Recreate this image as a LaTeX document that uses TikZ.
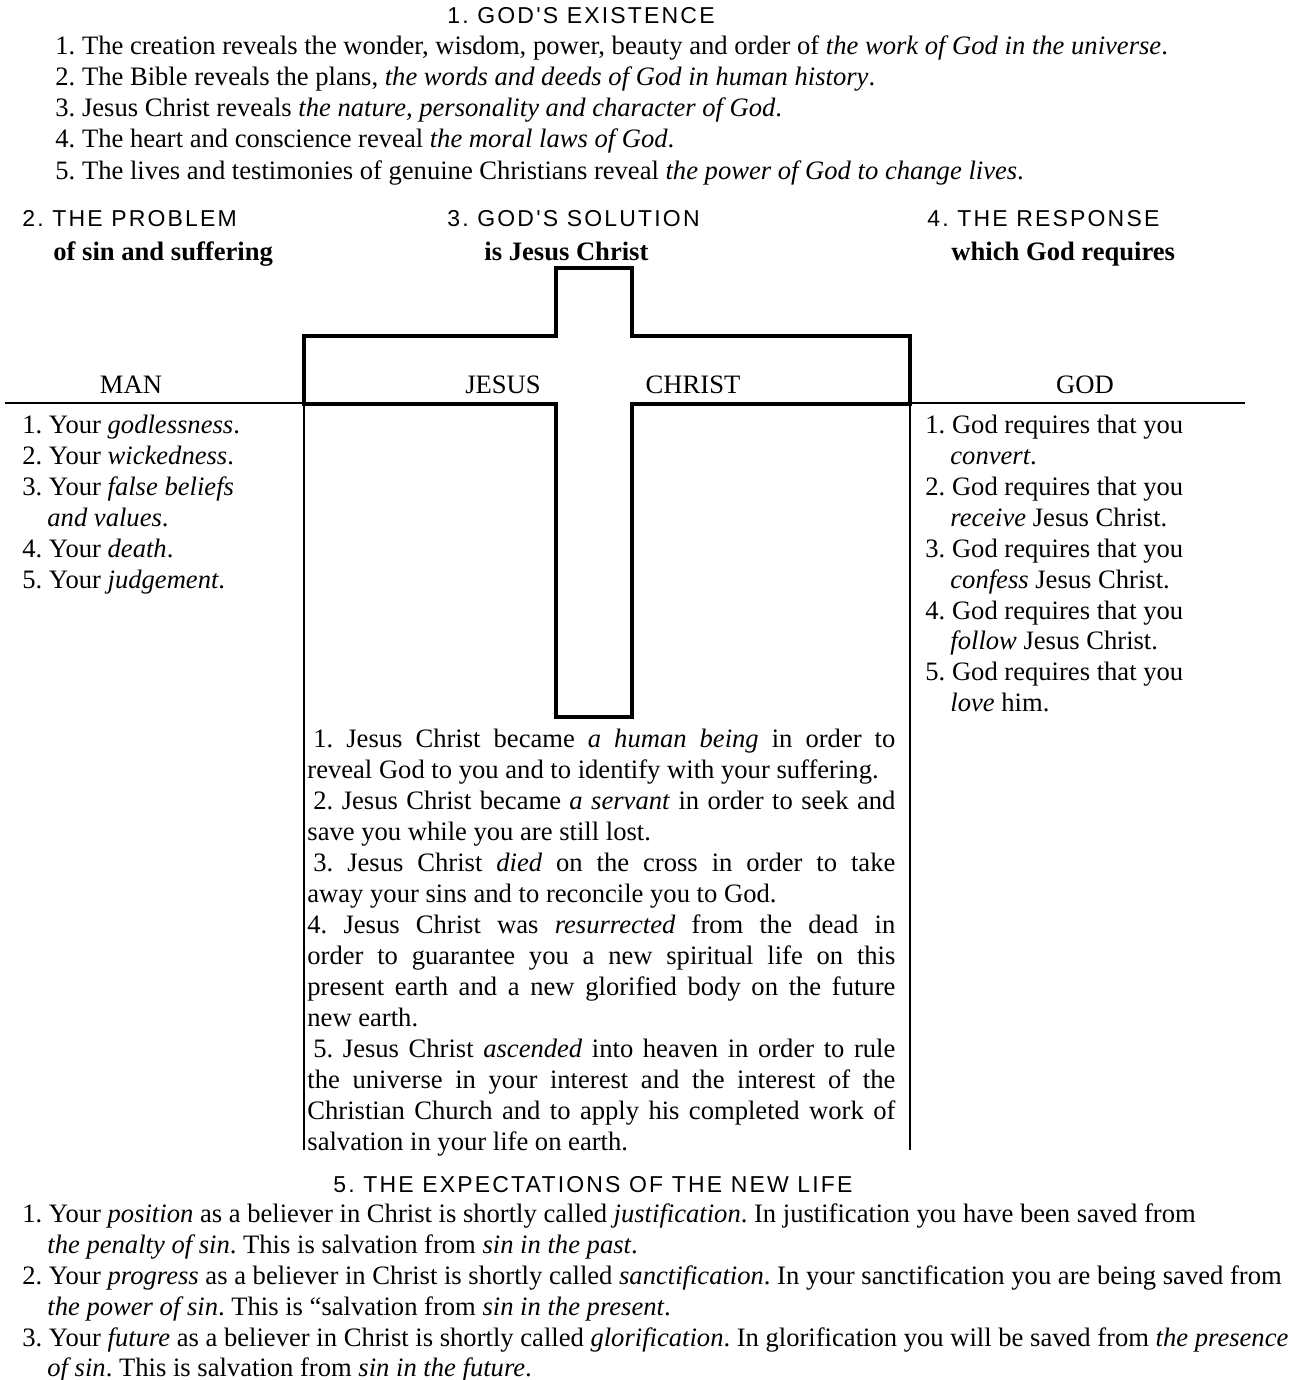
\documentclass[tikz,border=0pt]{standalone}
\usepackage{fontspec}
\setmainfont{Liberation Serif}
\newfontfamily\hfont[LetterSpace=9.5]{Liberation Sans}
\frenchspacing
\tikzset{
  x=0.5pt, y=-0.5pt,
  txt/.style={anchor=base west, inner sep=0pt, font=\fontsize{13.3}{15.5}\selectfont\frenchspacing},
  btxt/.style={txt, font=\fontsize{13.3}{15.5}\selectfont\bfseries},
  head/.style={anchor=base west, inner sep=0pt, font=\fontsize{11.5}{13}\hfont},
  lab/.style={anchor=base, inner sep=0pt, font=\fontsize{13.3}{15.5}\selectfont},
  crossline/.style={line width=2pt, line join=miter},
  thin/.style={line width=0.7pt}
}
\begin{document}
\begin{tikzpicture}
\useasboundingbox (0,0) rectangle (1307,1380);
% heading 1
\node[head] (h1) at (447,24) {1. GOD'S EXISTENCE};
\node[txt] (e1) at (55,55) {1. The creation reveals the wonder, wisdom, power, beauty and order of \textit{the work of God in the universe}.};
\node[txt] (e2) at (55,86) {2. The Bible reveals the plans, \textit{the words and deeds of God in human history}.};
\node[txt] (e3) at (55,117) {3. Jesus Christ reveals \textit{the nature, personality and character of God}.};
\node[txt] (e4) at (55,148) {4. The heart and conscience reveal \textit{the moral laws of God}.};
\node[txt] (e5) at (55,180) {5. The lives and testimonies of genuine Christians reveal \textit{the power of God to change lives}.};
% section headings
\node[head] (h2) at (22,227) {2. THE PROBLEM};
\node[btxt] (h2b) at (53,260) {of sin and suffering};
\node[head] (h3) at (447,227) {3. GOD'S SOLUTION};
\node[btxt] (h3b) at (484,260) {is Jesus Christ};
\node[head] (h4) at (927,227) {4. THE RESPONSE};
\node[btxt] (h4b) at (951,260) {which God requires};
% cross and lines
\draw[thin] (5,403) -- (304,403);
\draw[thin] (910,403) -- (1245,403);
\draw[thin] (304,404) -- (304,1150);
\draw[thin] (910,404) -- (910,1150);
\draw[crossline] (556,268) -- (632,268) -- (632,336) -- (910,336) -- (910,404) -- (632,404) -- (632,717) -- (556,717) -- (556,404) -- (304,404) -- (304,336) -- (556,336) -- cycle;
% labels
\node[lab] (man) at (131,393) {MAN};
\node[lab] (jesus) at (503,393) {JESUS};
\node[lab] (christ) at (693,393) {CHRIST};
\node[lab] (god) at (1085,393) {GOD};
% left list
\node[txt] (m1) at (22,433) {1. Your \textit{godlessness}.};
\node[txt] (m2) at (22,464) {2. Your \textit{wickedness}.};
\node[txt] (m3) at (22,495) {3. Your \textit{false beliefs}};
\node[txt] (m3b) at (47,526) {\textit{and values}.};
\node[txt] (m4) at (22,557) {4. Your \textit{death}.};
\node[txt] (m5) at (22,588) {5. Your \textit{judgement}.};
% right list
\node[txt] (g1) at (925,433) {1. God requires that you};
\node[txt] (g1b) at (950,464) {\textit{convert}.};
\node[txt] (g2) at (925,495) {2. God requires that you};
\node[txt] (g2b) at (950,526) {\textit{receive} Jesus Christ.};
\node[txt] (g3) at (925,557) {3. God requires that you};
\node[txt] (g3b) at (950,588) {\textit{confess} Jesus Christ.};
\node[txt] (g4) at (925,619) {4. God requires that you};
\node[txt] (g4b) at (950,649) {\textit{follow} Jesus Christ.};
\node[txt] (g5) at (925,680) {5. God requires that you};
\node[txt] (g5b) at (950,711) {\textit{love} him.};
% middle paragraph
\node[anchor=north west, inner sep=0pt, text width=294pt, align=justify, font=\fontsize{13.3}{15.5}\selectfont\frenchspacing] (mid) at (307,729) {%
\hspace*{3pt}1. Jesus Christ became \textit{a human being} in order to\linebreak
reveal God to you and to identify with your suffering.\par
\hspace*{3pt}2. Jesus Christ became \textit{a servant} in order to seek and\linebreak
save you while you are still lost.\par
\hspace*{3pt}3. Jesus Christ \textit{died} on the cross in order to take\linebreak
away your sins and to reconcile you to God.\par
4. Jesus Christ was \textit{resurrected} from the dead in\linebreak
order to guarantee you a new spiritual life on this\linebreak
present earth and a new glorified body on the future\linebreak
new earth.\par
\hspace*{3pt}5. Jesus Christ \textit{ascended} into heaven in order to rule\linebreak
the universe in your interest and the interest of the\linebreak
Christian Church and to apply his completed work of\linebreak
salvation in your life on earth.};
% heading 5
\node[head] (h5) at (333,1192) {5. THE EXPECTATIONS OF THE NEW LIFE};
\node[txt] (x1) at (22,1222) {1. Your \textit{position} as a believer in Christ is shortly called \textit{justification}. In justification you have been saved from};
\node[txt] (x1b) at (47,1253) {\textit{the penalty of sin}. This is salvation from \textit{sin in the past}.};
\node[txt] (x2) at (22,1284) {2. Your \textit{progress} as a believer in Christ is shortly called \textit{sanctification}. In your sanctification you are being saved from};
\node[txt] (x2b) at (47,1315) {\textit{the power of sin}. This is ``salvation from \textit{sin in the present}.};
\node[txt] (x3) at (22,1346) {3. Your \textit{future} as a believer in Christ is shortly called \textit{glorification}. In glorification you will be saved from \textit{the presence}};
\node[txt] (x3b) at (47,1376) {\textit{of sin}. This is salvation from \textit{sin in the future}.};
\end{tikzpicture}
\end{document}
